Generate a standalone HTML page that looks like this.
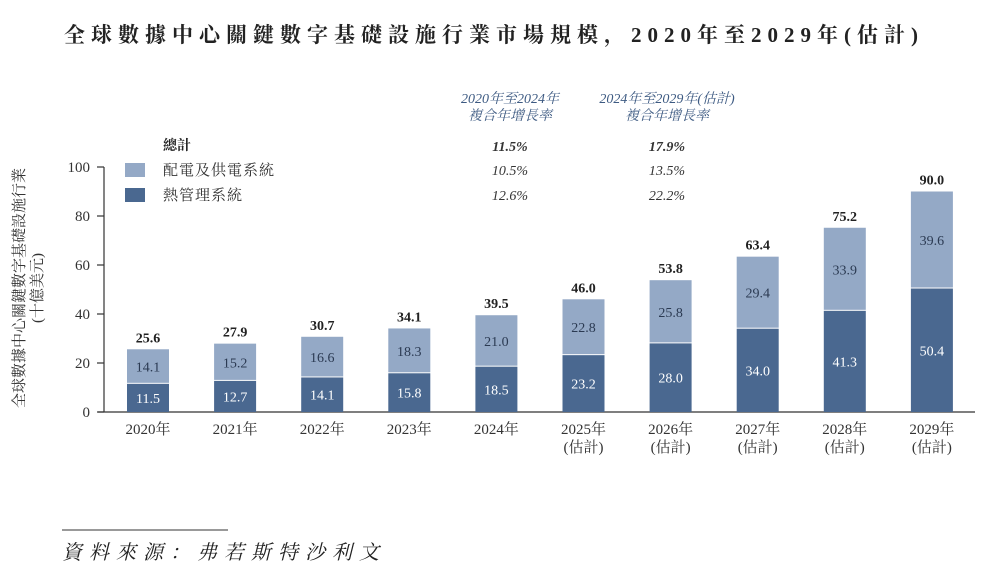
<!DOCTYPE html>
<html><head><meta charset="utf-8"><style>
body{margin:0;background:#fff;width:995px;height:575px;overflow:hidden;font-family:"Liberation Serif","Noto Serif CJK SC",serif;}
svg text{font-family:"Liberation Serif","Noto Serif CJK SC",serif;}
</style></head><body>
<svg id="chart" width="995" height="575" xmlns="http://www.w3.org/2000/svg">
<text x="494" y="42" text-anchor="middle" font-size="21" font-weight="bold" letter-spacing="6" fill="#222">全球數據中心關鍵數字基礎設施行業市場規模，2020年至2029年(估計)</text>
<g>
<text x="163" y="150" font-size="14" font-weight="bold" fill="#222">總計</text>
<rect x="125" y="163" width="20" height="14" fill="#94a9c6"/>
<text x="163" y="175" font-size="15" letter-spacing="1" fill="#333">配電及供電系統</text>
<rect x="125" y="188" width="20" height="14" fill="#4a6890"/>
<text x="163" y="200" font-size="15" letter-spacing="1" fill="#333">熱管理系統</text>
</g>
<g font-style="italic" text-anchor="middle" fill="#333">
<text x="510" y="103" font-size="14" fill="#3d5a82">2020年至2024年</text>
<text x="510" y="120" font-size="14" fill="#3d5a82">複合年增長率</text>
<text x="667" y="103" font-size="14" fill="#3d5a82">2024年至2029年(估計)</text>
<text x="667" y="120" font-size="14" fill="#3d5a82">複合年增長率</text>
<text x="510" y="151" font-size="14" font-weight="bold">11.5%</text>
<text x="667" y="151" font-size="14" font-weight="bold">17.9%</text>
<text x="510" y="175" font-size="14">10.5%</text>
<text x="667" y="175" font-size="14">13.5%</text>
<text x="510" y="200" font-size="14">12.6%</text>
<text x="667" y="200" font-size="14">22.2%</text>
</g>
<text transform="translate(24,288) rotate(-90)" text-anchor="middle" font-size="15" fill="#333">全球數據中心關鍵數字基礎設施行業</text>
<text transform="translate(42,288) rotate(-90)" text-anchor="middle" font-size="15" fill="#333">(十億美元)</text>
<g id="axes"></g>
<g id="bars"></g>
<line x1="62" y1="530" x2="228" y2="530" stroke="#333" stroke-width="1"/>
<text x="62" y="559" font-size="20" font-style="italic" letter-spacing="7" fill="#222">資料來源：弗若斯特沙利文</text>
</svg>
<script>
const categories=["2020年","2021年","2022年","2023年","2024年","2025年","2026年","2027年","2028年","2029年"];
const estimated=[false,false,false,false,false,true,true,true,true,true];
const thermal=[11.5,12.7,14.1,15.8,18.5,23.2,28.0,34.0,41.3,50.4];
const power=[14.1,15.2,16.6,18.3,21.0,22.8,25.8,29.4,33.9,39.6];
const totals=[25.6,27.9,30.7,34.1,39.5,46.0,53.8,63.4,75.2,90.0];
const yTicks=[0,20,40,60,80,100];
const NS="http://www.w3.org/2000/svg";
const y0=412,yTop=167,x0=148,step=87.1,bw=42;
const y=v=>y0-(v/100)*(y0-yTop);
const x=i=>x0+i*step;
function mk(tag,attrs,parent,txt){const e=document.createElementNS(NS,tag);for(const k in attrs)e.setAttribute(k,attrs[k]);if(txt!==undefined)e.textContent=txt;parent.appendChild(e);return e;}
const ax=document.getElementById('axes');
let l=mk('line',{x1:104,y1:y(0),x2:104,y2:y(100),stroke:'#333','stroke-width':1.2},ax);


l=mk('line',{x1:98,y1:y(0),x2:975,y2:y(0),stroke:'#333','stroke-width':1.2},ax);


yTicks.forEach(t=>{
  const tk=mk('line',{x1:97,y1:y(t),x2:104,y2:y(t),stroke:'#333','stroke-width':1.2},ax);
  
  
  const tl=mk('text',{x:90,y:y(t)+5,'text-anchor':'end','font-size':15,fill:'#333'},ax,String(t));
  
  
});
const bg=document.getElementById('bars');
categories.forEach((c,i)=>{
  const cx=x(i);
  const r1=mk('rect',{x:cx-bw/2,y:y(thermal[i]),width:bw,height:y(0)-y(thermal[i]),fill:'#4a6890'},bg);
  
  
  const top=thermal[i]+power[i];
  const r2=mk('rect',{x:cx-bw/2,y:y(top),width:bw,height:y(thermal[i])-y(top)-1,fill:'#94a9c6'},bg);
  
  
  const t1=mk('text',{x:cx,y:(y(0)+y(thermal[i]))/2+5,'text-anchor':'middle','font-size':14,fill:'#fff'},bg,thermal[i].toFixed(1));
  
  
  const t2=mk('text',{x:cx,y:(y(thermal[i])+y(top))/2+5,'text-anchor':'middle','font-size':14,fill:'#2b3a52'},bg,power[i].toFixed(1));
  
  
  const t3=mk('text',{x:cx,y:y(top)-7,'text-anchor':'middle','font-size':14,'font-weight':'bold',fill:'#222'},bg,totals[i].toFixed(1));
  
  
  const xl=mk('text',{x:cx,y:434,'text-anchor':'middle','font-size':15,fill:'#333'},bg,c);
  
  
  if(estimated[i]){
    const el=mk('text',{x:cx,y:452,'text-anchor':'middle','font-size':15,fill:'#333'},bg,'(估計)');
    
    
  }
});
</script>
</body></html>
